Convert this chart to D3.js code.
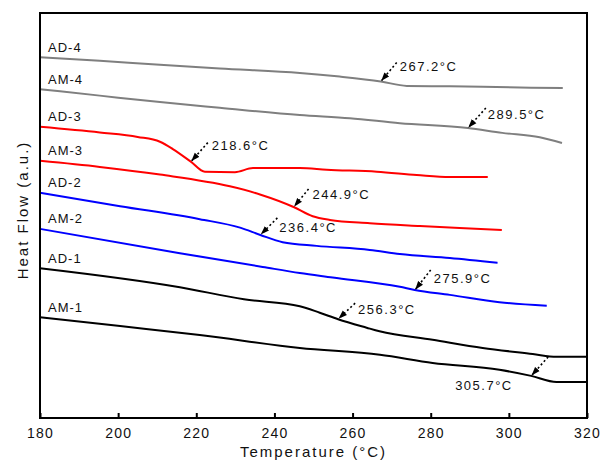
<!DOCTYPE html>
<html>
<head>
<meta charset="utf-8">
<script src="https://cdn.jsdelivr.net/npm/d3@7/dist/d3.min.js"></script>
<style>
  body { margin: 0; background: #fff; }
  svg { display: block; }
  text { font-family: "Liberation Sans", Arial, sans-serif; fill: #111; }
</style>
</head>
<body>
<svg id="chart" width="602" height="464"></svg>
<script>
// DSC traces: temperature (°C) and heat flow (a.u., stacked offsets)
const seriesNames = ["AD-4", "AM-4", "AD-3", "AM-3", "AD-2", "AM-2", "AD-1", "AM-1"];
const seriesColors = ["#7f7f7f", "#7f7f7f", "#ff0000", "#ff0000", "#0000ff", "#0000ff", "#000000", "#000000"];

const tempAD4 = [180, 195.3, 210.7, 226.0, 246.5, 256.7, 267.2, 273.9, 284.9, 302.8, 313.8];
const flowAD4 = [89.1, 88.2, 87.2, 86.3, 85.2, 84.3, 83.1, 82.0, 81.9, 81.6, 81.5];

const tempAM4 = [180, 195.3, 210.7, 226.0, 246.5, 259.3, 272.1, 289.5, 298.3, 307.9, 313.6];
const flowAM4 = [81.2, 79.6, 78.0, 76.6, 74.8, 74.0, 72.8, 71.6, 70.4, 69.3, 67.9];

const tempAD3 = [180, 195.3, 205.0, 210.7, 214.0, 218.6, 222.2, 229.9, 234.5, 246.5, 253.4, 266.2, 276.4, 284.9, 294.6];
const flowAD3 = [71.9, 70.5, 69.4, 68.2, 66.4, 63.3, 60.8, 60.7, 61.7, 61.7, 61.3, 60.8, 60.0, 59.5, 59.5];

const tempAM3 = [180, 195.3, 210.7, 228.6, 236.3, 244.9, 249.8, 254.2, 264.4, 277.2, 287.4, 298.2];
const flowAM3 = [63.5, 62.0, 60.1, 57.2, 55.2, 52.1, 49.8, 48.9, 48.1, 47.4, 46.9, 46.4];

const tempAD2 = [180, 200.5, 220.9, 231.2, 236.4, 242.1, 250.8, 264.4, 272.1, 284.9, 297.1];
const flowAD2 = [55.6, 52.3, 49.1, 47.0, 45.2, 43.4, 42.5, 41.5, 40.5, 39.5, 38.3];

const tempAM2 = [180, 215.8, 237.0, 246.5, 254.9, 272.1, 275.9, 284.9, 297.6, 309.7];
const flowAM2 = [46.7, 40.7, 37.3, 35.8, 34.7, 32.4, 31.6, 30.4, 28.6, 27.7];

const tempAD1 = [180, 215.8, 232.2, 246.5, 251.6, 256.3, 263.6, 266.9, 280.5, 293.3, 306.1, 312.2, 320];
const flowAD1 = [37.0, 32.3, 29.3, 27.6, 26.0, 24.4, 22.3, 21.4, 19.3, 17.3, 15.8, 15.1, 15.1];

const tempAM1 = [180, 200.5, 220.9, 246.5, 267.0, 280.5, 297.6, 305.7, 312.2, 320];
const flowAM1 = [24.9, 22.7, 20.5, 17.3, 15.6, 13.6, 11.9, 10.4, 8.9, 8.9];

const seriesTemps = [tempAD4, tempAM4, tempAD3, tempAM3, tempAD2, tempAM2, tempAD1, tempAM1];
const seriesFlows = [flowAD4, flowAM4, flowAD3, flowAM3, flowAD2, flowAM2, flowAD1, flowAM1];

// Marked transition temperatures, one per trace
const transitionTemps = [267.2, 289.5, 218.6, 244.9, 236.4, 275.9, 256.3, 305.7];

const xTicks = [180, 200, 220, 240, 260, 280, 300, 320];

// ---- layout ----
const plot = { left: 40, right: 587, top: 13, bottom: 418 };
// arrow tail and label offsets (px) relative to the marked point
const annoLayout = [
  { tx: 16, ty: -19, lx: 19, ly: -15 },
  { tx: 18, ty: -20, lx: 20, ly: -14 },
  { tx: 17, ty: -19, lx: 21, ly: -16 },
  { tx: 15, ty: -18, lx: 19, ly: -13 },
  { tx: 17, ty: -17, lx: 19, ly: -7 },
  { tx: 16, ty: -20, lx: 19, ly: -12 },
  { tx: 17, ty: -16, lx: 20, ly: -10 },
  { tx: 17, ty: -19, lx: -76, ly: 10 }
];

const svg = d3.select("#chart");

const x = d3.scaleLinear().domain([180, 320]).range([plot.left, plot.right]);
const y = d3.scaleLinear().domain([0, 100]).range([plot.bottom, plot.top]);

const defs = svg.append("defs");
defs.append("marker")
  .attr("id", "arrowhead")
  .attr("viewBox", "0 -4 10 8")
  .attr("refX", 9).attr("refY", 0)
  .attr("markerWidth", 9).attr("markerHeight", 7)
  .attr("markerUnits", "userSpaceOnUse")
  .attr("orient", "auto")
  .append("path")
  .attr("d", "M0,-3.5L10,0L0,3.5Z")
  .attr("fill", "#000");

// bottom axis with inward ticks
const xAxis = d3.axisBottom(x)
  .tickValues(xTicks)
  .tickSizeInner(-5)
  .tickSizeOuter(0)
  .tickPadding(10)
  .tickFormat(d3.format("d"));

const gx = svg.append("g")
  .attr("transform", `translate(0,${plot.bottom})`)
  .call(xAxis);
gx.select(".domain").remove();
gx.selectAll(".tick line").attr("stroke", "#000").attr("stroke-width", 2);
gx.selectAll(".tick text")
  .attr("font-size", 14)
  .attr("letter-spacing", "1.2px")
  .attr("fill", "#111")
  .style("font-family", "'Liberation Sans', Arial, sans-serif");

// traces
const line = d3.line()
  .x(d => x(d[0]))
  .y(d => y(d[1]))
  .curve(d3.curveMonotoneX);

seriesNames.forEach((name, i) => {
  const pts = seriesTemps[i].map((t, j) => [t, seriesFlows[i][j]]);
  svg.append("path")
    .datum(pts)
    .attr("fill", "none")
    .attr("stroke", seriesColors[i])
    .attr("stroke-width", 2)
    .attr("stroke-linejoin", "round")
    .attr("d", line);

  svg.append("text")
    .attr("x", plot.left + 8)
    .attr("y", y(seriesFlows[i][0]) - 10)
    .attr("dy", "0.35em")
    .attr("font-size", 13)
    .attr("letter-spacing", "1px")
    .text(name);
});

// transition markers: dotted arrow onto the trace plus value label
function flowAt(i, t) {
  const ts = seriesTemps[i], fs = seriesFlows[i];
  const k = Math.max(1, Math.min(ts.length - 1, d3.bisectLeft(ts, t)));
  const t0 = ts[k - 1], t1 = ts[k];
  const r = (t - t0) / (t1 - t0);
  return fs[k - 1] + r * (fs[k] - fs[k - 1]);
}

transitionTemps.forEach((t, i) => {
  const px = x(t), py = y(flowAt(i, t));
  const L = annoLayout[i];
  svg.append("line")
    .attr("x1", px + L.tx).attr("y1", py + L.ty)
    .attr("x2", px + 1).attr("y2", py - 1)
    .attr("stroke", "#000")
    .attr("stroke-width", 1.6)
    .attr("stroke-dasharray", "2,2.5")
    .attr("marker-end", "url(#arrowhead)");
  svg.append("text")
    .attr("x", px + L.lx)
    .attr("y", py + L.ly)
    .attr("dy", "0.35em")
    .attr("font-size", 13)
    .attr("letter-spacing", "1.5px")
    .text(`${t.toFixed(1)}°C`);
});

// frame
svg.append("rect")
  .attr("x", plot.left).attr("y", plot.top)
  .attr("width", plot.right - plot.left)
  .attr("height", plot.bottom - plot.top)
  .attr("fill", "none")
  .attr("stroke", "#000")
  .attr("stroke-width", 2);

// axis titles
svg.append("text")
  .attr("x", (plot.left + plot.right) / 2)
  .attr("y", 457)
  .attr("text-anchor", "middle")
  .attr("font-size", 15)
  .attr("letter-spacing", "2px")
  .text("Temperature (°C)");

svg.append("text")
  .attr("transform", "translate(28,210) rotate(-90)")
  .attr("text-anchor", "middle")
  .attr("font-size", 15)
  .attr("letter-spacing", "2px")
  .text("Heat Flow (a.u.)");
</script>
</body>
</html>
